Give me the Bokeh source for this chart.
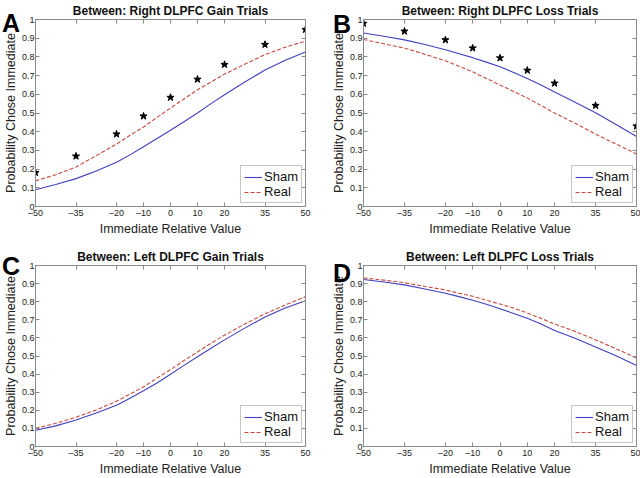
from bokeh.plotting import figure
from bokeh.layouts import gridplot, column
from bokeh.models import Range1d, LinearAxis, FixedTicker, Legend, LegendItem, Div
from bokeh.embed import file_html
from bokeh.resources import INLINE

# ---- data ----
XS = [-50, -42.5, -35, -27.5, -20, -15, -10, -5, 0, 5, 10, 15, 20, 27.5, 35, 42.5, 50]
STAR_X = [-50, -35, -20, -10, 0, 10, 20, 35, 50]
X_TICKS = [-50, -35, -20, -10, 0, 10, 20, 35, 50]
Y_TICKS = [0, 0.1, 0.2, 0.3, 0.4, 0.5, 0.6, 0.7, 0.8, 0.9, 1]
Y_LABELS = ["0", "0.1", "0.2", "0.3", "0.4", "0.5", "0.6", "0.7", "0.8", "0.9", "1"]
X_LABELS = ["\u201350", "\u201335", "\u201320", "\u201310", "0", "10", "20", "35", "50"]

A_sham = [0.09, 0.118, 0.149, 0.19, 0.237, 0.276, 0.32, 0.364, 0.408, 0.453, 0.50, 0.55, 0.598, 0.666, 0.73, 0.782, 0.826]
A_real = [0.137, 0.17, 0.211, 0.272, 0.334, 0.381, 0.425, 0.476, 0.527, 0.575, 0.624, 0.666, 0.708, 0.761, 0.812, 0.852, 0.884]
A_stars = [0.181, 0.269, 0.387, 0.483, 0.583, 0.68, 0.759, 0.866, 0.946]

B_sham = [0.928, 0.91, 0.891, 0.866, 0.838, 0.817, 0.796, 0.772, 0.747, 0.717, 0.685, 0.65, 0.612, 0.557, 0.501, 0.439, 0.374]
B_real = [0.893, 0.87, 0.847, 0.814, 0.779, 0.75, 0.72, 0.685, 0.65, 0.615, 0.58, 0.54, 0.50, 0.445, 0.387, 0.334, 0.281]
B_stars = [0.979, 0.937, 0.891, 0.847, 0.794, 0.728, 0.659, 0.54, 0.43]

C_sham = [0.09, 0.114, 0.146, 0.185, 0.228, 0.267, 0.308, 0.351, 0.399, 0.448, 0.496, 0.543, 0.589, 0.654, 0.715, 0.765, 0.805]
C_real = [0.10, 0.128, 0.162, 0.202, 0.25, 0.29, 0.329, 0.378, 0.425, 0.475, 0.522, 0.571, 0.615, 0.677, 0.733, 0.782, 0.828]

D_sham = [0.923, 0.909, 0.893, 0.87, 0.847, 0.828, 0.808, 0.786, 0.761, 0.735, 0.708, 0.677, 0.641, 0.598, 0.55, 0.501, 0.448]
D_real = [0.931, 0.919, 0.905, 0.884, 0.865, 0.847, 0.83, 0.808, 0.787, 0.765, 0.738, 0.708, 0.677, 0.636, 0.589, 0.54, 0.489]

PANEL_LETTERS = ["A", "B", "C", "D"]

FONT = "Liberation Sans"
BLUE = "#4040c0"
RED = "#c84a40"
AXC = "#8a8a8a"


def style_axis(ax, show_labels):
    ax.major_tick_in = 4
    ax.major_tick_out = 0
    ax.minor_tick_line_color = None
    ax.axis_line_color = AXC
    ax.major_tick_line_color = AXC
    ax.major_label_text_font = FONT
    ax.major_label_text_font_size = "9px"
    ax.major_label_text_color = "#222222"
    ax.major_label_standoff = 1 if show_labels else 0


def panel(title, sham, real, stars, height, left_b, right_b, top_b, bottom_b):
    p = figure(width=320, height=height, output_backend="svg", toolbar_location=None,
               x_range=Range1d(-50, 50), y_range=Range1d(0, 1),
               min_border_left=left_b, min_border_right=right_b,
               min_border_top=top_b, min_border_bottom=bottom_b)
    p.title.text = title
    p.title.align = "center"
    p.title.text_font = FONT
    p.title.text_font_size = "12px"
    p.title.text_font_style = "bold"
    p.title.text_color = "#111111"
    p.title.standoff = 3
    p.xgrid.visible = False
    p.ygrid.visible = False
    p.outline_line_color = AXC

    xa = p.xaxis[0]
    ya = p.yaxis[0]
    xa.ticker = FixedTicker(ticks=X_TICKS)
    ya.ticker = FixedTicker(ticks=Y_TICKS)
    xa.major_label_overrides = {t: l for t, l in zip(X_TICKS, X_LABELS)}
    ya.major_label_overrides = {t: l for t, l in zip(Y_TICKS, Y_LABELS)}
    style_axis(xa, True)
    style_axis(ya, True)
    xa.axis_label = "Immediate Relative Value"
    ya.axis_label = "Probability Chose Immediate"
    for ax in (xa, ya):
        ax.axis_label_text_font = FONT
        ax.axis_label_text_font_size = "12.5px"
        ax.axis_label_text_font_style = "normal"
        ax.axis_label_text_color = "#222222"
        ax.axis_label_standoff = 1

    top = LinearAxis(ticker=FixedTicker(ticks=X_TICKS),
                     major_label_overrides={t: "" for t in X_TICKS})
    right = LinearAxis(ticker=FixedTicker(ticks=Y_TICKS),
                       major_label_overrides={t: "" for t in Y_TICKS})
    style_axis(top, False)
    style_axis(right, False)
    p.add_layout(top, "above")
    p.add_layout(right, "right")

    r1 = p.line(XS, sham, line_color=BLUE, line_width=1.1)
    r2 = p.line(XS, real, line_color=RED, line_width=1.1, line_dash="4 2")
    if stars is not None:
        p.scatter(STAR_X, stars, marker="star", size=7.5, fill_color="black", line_color="black")

    leg = Legend(items=[LegendItem(label="Sham", renderers=[r1]),
                        LegendItem(label="Real", renderers=[r2])],
                 location="bottom_right")
    leg.label_text_font = FONT
    leg.label_text_font_size = "13px"
    leg.label_text_color = "#111111"
    leg.glyph_width = 18
    leg.glyph_height = 14
    leg.label_standoff = 2
    leg.spacing = 0
    leg.padding = 3
    leg.margin = 3
    leg.border_line_color = AXC
    leg.label_height = 14
    p.add_layout(leg)
    return p


pa = panel("Between: Right DLPFC Gain Trials", A_sham, A_real, A_stars, 245, 32, 15, 17, 39)
pb = panel("Between: Right DLPFC Loss Trials", B_sham, B_real, B_stars, 245, 43, 4, 17, 39)
pc = panel("Between: Left DLPFC Gain Trials", C_sham, C_real, None, 233, 32, 15, 20, 0)
pd = panel("Between: Left DLPFC Loss Trials", D_sham, D_real, None, 233, 43, 4, 20, 0)

grid = gridplot([[pa, pb], [pc, pd]], toolbar_location=None)

# panel letters, laid over the figures' top-left corners
letter_pos = [(2, -1), (333, 0), (2, 242), (333, 249)]
spans = "".join(
    '<span style="position:absolute; left:%dpx; top:%dpx; font-family:\'Liberation Sans\', Arial, sans-serif; '
    'font-weight:bold; font-size:25px; line-height:25px; color:#000; z-index:100;">%s</span>' % (x, y, t)
    for t, (x, y) in zip(PANEL_LETTERS, letter_pos))
letters = Div(text='<div style="position:relative; width:0; height:0; overflow:visible;">' + spans + '</div>',
              width=640, height=0, margin=0,
              styles={"position": "relative", "z-index": "100", "overflow": "visible",
                      "margin": "0", "padding": "0"})

layout = column(letters, grid, spacing=0)
open("out.html", "w").write(file_html(layout, INLINE))
